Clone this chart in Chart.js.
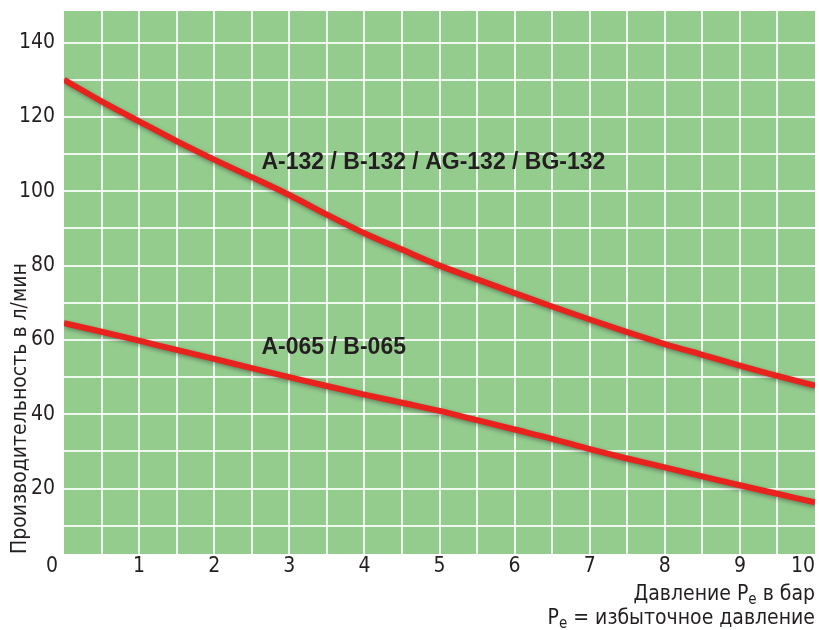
<!DOCTYPE html>
<html>
<head>
<meta charset="utf-8">
<script src="https://cdn.jsdelivr.net/npm/chart.js@4.4.1/dist/chart.umd.min.js"></script>
<style>
  html, body { margin: 0; padding: 0; background: #ffffff; }
  #wrap { width: 819px; height: 630px; position: relative; }
</style>
</head>
<body>
<div id="wrap"><canvas id="c" width="819" height="630"></canvas></div>
<script>
// ---- data ----
const pressure = [0, 0.5, 1, 1.5, 2, 2.5, 3, 3.5, 4, 4.5, 5, 5.5, 6, 6.5, 7, 7.5, 8, 8.5, 9, 9.5, 10];
const flow132  = [130, 124.2, 118.8, 113.5, 108.5, 103.8, 99, 93.7, 88.7, 84.3, 80, 76.3, 72.6, 69.0, 65.5, 62.1, 58.9, 56.0, 53.1, 50.3, 47.7];
const flow065  = [64.5, 62.2, 59.8, 57.3, 54.9, 52.4, 50, 47.6, 45.3, 43.1, 40.9, 38.4, 35.9, 33.4, 30.6, 28.1, 25.7, 23.3, 20.9, 18.6, 16.3];
const seriesNames = ['A-132 / B-132 / AG-132 / BG-132', 'A-065 / B-065'];
const labelAnchor = [[2.63, 107.6], [2.63, 58]];
const xTickLabels = ['0', '1', '2', '3', '4', '5', '6', '7', '8', '9', '10'];
const yTickLabels = ['20', '40', '60', '80', '100', '120', '140'];
const yTitle = 'Производительность в л/мин';
const xTitle1 = ['Давление P', 'e', ' в бар'];
const xTitle2 = ['P', 'e', ' = избыточное давление'];

const NARROW = "'Liberation Sans Narrow', 'DejaVu Sans Condensed', 'Arial Narrow', sans-serif";
const BOLD = "'Liberation Sans', Arial, sans-serif";
const TXT = '#231f20';

const toXY = (xs, ys) => xs.map((x, i) => ({ x: x, y: ys[i] }));

const decor = {
  id: 'decor',
  beforeDraw(chart) {
    const { ctx, chartArea: a } = chart;
    ctx.save();
    ctx.fillStyle = '#94cc8e';
    ctx.fillRect(a.left, a.top, a.right - a.left, a.bottom - a.top);
    ctx.restore();
  },
  beforeDatasetDraw(chart) {
    const ctx = chart.ctx;
    ctx.save();
    ctx.shadowColor = 'rgba(40,40,40,0.45)';
    ctx.shadowBlur = 4;
    ctx.shadowOffsetX = 1;
    ctx.shadowOffsetY = 2;
  },
  afterDatasetDraw(chart) {
    chart.ctx.restore();
  },
  afterDraw(chart) {
    const { ctx, chartArea: a } = chart;
    const xs = chart.scales.x, ys = chart.scales.y;
    ctx.save();
    // x tick labels
    ctx.fillStyle = TXT;
    ctx.font = '21px ' + NARROW;
    ctx.textBaseline = 'middle';
    xTickLabels.forEach((t, i) => {
      const px = xs.getPixelForValue(Number(t));
      const py = a.bottom + 13;
      if (i === 0) { ctx.textAlign = 'center'; ctx.fillText(t, px - 12, py); }
      else if (i === xTickLabels.length - 1) { ctx.textAlign = 'right'; ctx.fillText(t, a.right, py); }
      else { ctx.textAlign = 'center'; ctx.fillText(t, px, py); }
    });
    // x title lines with subscript
    const drawSub = (parts, right, base) => {
      ctx.textBaseline = 'alphabetic';
      ctx.textAlign = 'left';
      const big = '21px ' + NARROW, small = '15px ' + NARROW;
      ctx.font = big; const w0 = ctx.measureText(parts[0]).width;
      ctx.font = small; const w1 = ctx.measureText(parts[1]).width;
      ctx.font = big; const w2 = ctx.measureText(parts[2]).width;
      let x = right - (w0 + w1 + w2);
      ctx.font = big; ctx.fillText(parts[0], x, base); x += w0;
      ctx.font = small; ctx.fillText(parts[1], x, base + 4); x += w1;
      ctx.font = big; ctx.fillText(parts[2], x, base);
    };
    drawSub(xTitle1, a.right, a.bottom + 46);
    drawSub(xTitle2, a.right, a.bottom + 70);
    // curve labels
    ctx.font = 'bold 23px ' + BOLD;
    ctx.textAlign = 'left';
    ctx.textBaseline = 'middle';
    seriesNames.forEach((n, i) => {
      ctx.fillText(n, xs.getPixelForValue(labelAnchor[i][0]), ys.getPixelForValue(labelAnchor[i][1]));
    });
    ctx.restore();
  }
};

new Chart(document.getElementById('c'), {
  type: 'line',
  data: {
    datasets: [
      { label: seriesNames[0], data: toXY(pressure, flow132), borderColor: '#e8231e', borderWidth: 6, pointRadius: 0, tension: 0.4, cubicInterpolationMode: 'monotone', fill: false },
      { label: seriesNames[1], data: toXY(pressure, flow065), borderColor: '#e8231e', borderWidth: 6, pointRadius: 0, tension: 0.4, cubicInterpolationMode: 'monotone', fill: false }
    ]
  },
  options: {
    responsive: false,
    animation: false,
    events: [],
    layout: { padding: { top: 11, right: 4, left: 0, bottom: 0 } },
    plugins: { legend: { display: false }, tooltip: { enabled: false } },
    scales: {
      x: {
        type: 'linear', min: 0, max: 10,
        ticks: { display: false, stepSize: 0.5, includeBounds: false },
        grid: { drawTicks: false, lineWidth: 2, color: (c) => (c.tick.value > 0.01 && c.tick.value < 9.99) ? 'rgba(255,255,255,0.85)' : 'rgba(0,0,0,0)' },
        border: { display: false },
        afterFit(s) { s.height = 76; s.paddingLeft = 0; s.paddingRight = 0; }
      },
      y: {
        type: 'linear', min: 2.4, max: 148.5,
        ticks: {
          stepSize: 10, includeBounds: false, padding: 9, color: TXT,
          font: { family: NARROW, size: 21 },
          callback: (v) => yTickLabels.includes(String(v)) ? String(v) : ''
        },
        grid: { drawTicks: false, lineWidth: 2, color: (c) => (c.tick.value % 10 === 0 && c.tick.value > 0) ? 'rgba(255,255,255,0.85)' : 'rgba(0,0,0,0)' },
        border: { display: false },
        title: { display: true, text: yTitle, align: 'start', color: TXT, font: { family: NARROW, size: 21 }, padding: { top: 8, bottom: 0 } },
        afterFit(s) { s.width = 64; s.paddingTop = 0; s.paddingBottom = 0; }
      }
    }
  },
  plugins: [decor]
});
</script>
</body>
</html>
